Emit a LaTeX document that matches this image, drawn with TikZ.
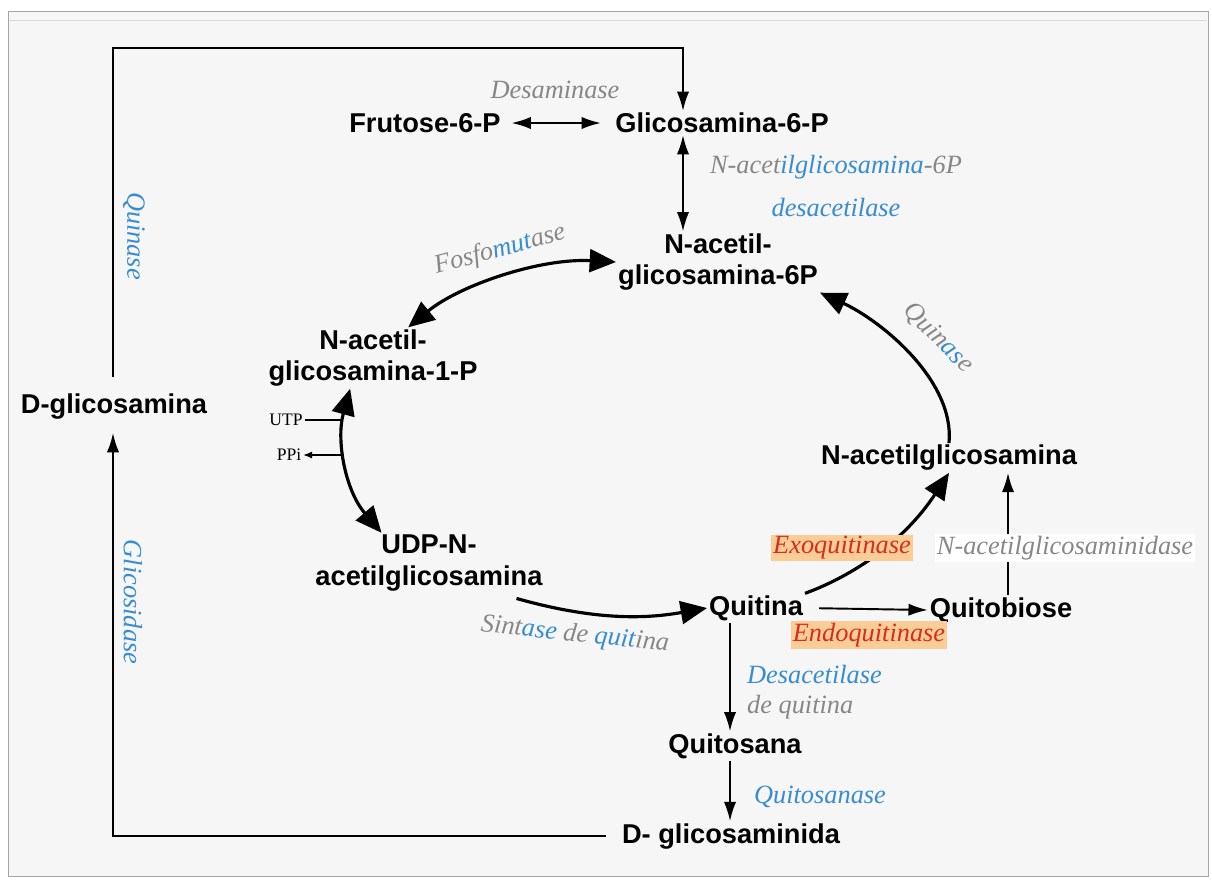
\documentclass[tikz,border=0pt]{standalone}
\usepackage{fontspec}
\setmainfont{Liberation Serif}
\setsansfont{Liberation Sans}
\usetikzlibrary{arrows.meta}
\definecolor{enzgray}{RGB}{135,135,135}
\definecolor{enzblue}{RGB}{55,140,210}
\definecolor{hlorange}{RGB}{250,205,150}
\definecolor{hlred}{RGB}{215,45,30}
\definecolor{bggray}{RGB}{246,246,246}

\begin{document}
\begin{tikzpicture}[x=0.02cm,y=-0.02cm,
    met/.style={font=\sffamily\bfseries\fontsize{15.5}{18}\selectfont,align=center,inner sep=1pt},
    enz/.style={font=\itshape\fontsize{15}{17}\selectfont,text=enzgray,inner sep=1pt,align=center},
    hl/.style={enz,text=hlred,fill=hlorange},
    big/.style={line width=1.8pt,-{Triangle[length=15pt,width=13pt]}},
    bigboth/.style={line width=1.8pt,{Triangle[length=15pt,width=13pt]}-{Triangle[length=15pt,width=13pt]}},
    thin/.style={line width=1.1pt,-{Latex[length=11pt,width=7pt]}},
    thinboth/.style={line width=1.1pt,{Latex[length=11pt,width=7pt]}-{Latex[length=11pt,width=7pt]}}]
    % frame
    \fill[white] (0,0) rectangle (1212,880);
    \draw[gray!70,fill=bggray] (8,11) rectangle (1208,876);
    \draw[gray!30] (9,20) -- (1207,20);

    % metabolites
    \node[met] (frut) at (425,123) {Frutose-6-P};
    \node[met] (gln6p) at (722,123) {Glicosamina-6-P};
    \node[met] (nag6p) at (718,262) {N-acetil-\\glicosamina-6P};
    \node[met] (nag1p) at (373,358) {N-acetil-\\glicosamina-1-P};
    \node[met] (dgln) at (114,407) {D-glicosamina};
    \node[met] (udp) at (429,563) {UDP-N-\\acetilglicosamina};
    \node[met] (quitina) at (756,608) {Quitina};
    \node[met] (quitob) at (1001,610) {Quitobiose};
    \node[met] (nag) at (949,458) {N-acetilglicosamina};
    \node[met] (quitos) at (735,746) {Quitosana};
    \node[met] (dglnd) at (731,836) {D- glicosaminida};
    \node[font=\fontsize{10}{12}\selectfont,inner sep=1pt] (utp) at (286,420) {UTP};
    \node[font=\fontsize{10}{12}\selectfont,inner sep=1pt] (ppi) at (289,455) {PPi};

    % fixed points of the outer loop
    \coordinate (dup) at (113,377);
    \coordinate (dlow) at (113,433);
    \coordinate (top) at (683,48);
    \coordinate (qv) at (730,0);
    \coordinate (qx) at (1008,0);

    % outer loop
    \draw[thin] (dup) |- (top) -- (top |- gln6p.north);
    \draw[thin] ([xshift=-8pt]dglnd.west) -| (dlow);

    % straight steps
    \draw[thinboth,shorten <=5pt,shorten >=7pt] (frut.east) -- (gln6p.west);
    \draw[thinboth] (gln6p.south -| top) -- (nag6p.north -| top);
    \draw[thin,shorten <=8pt] (quitina.east) -- (quitob.west);
    \draw[thin] (quitob.north -| qx) -- (nag.south -| qx);
    \draw[thin] (quitina.south -| qv) -- (quitos.north -| qv);
    \draw[thin] (quitos.south -| qv) -- (dglnd.north -| qv);

    % the cycle
    \draw[bigboth] (nag6p.west) .. controls (540,258) and (460,285) .. ([xshift=20pt]nag1p.north);
    \draw[bigboth] ([xshift=-13pt]nag1p.south) .. controls (336,440) and (345,490) .. ([xshift=-27pt]udp.north);
    \draw[line width=0.6pt] (utp.east) -- (341,420);
    \draw[line width=0.6pt,-{Latex[length=5pt,width=4pt]}] (342,455) -- (ppi.east);
    \draw[big] ([xshift=-16pt,yshift=-3pt]udp.south east) .. controls (600,622) and (650,618) .. (quitina.west);
    \draw[big] (quitina.north east) .. controls (855,575) and (905,540) .. (nag.south);
    \draw[big] (nag.north) .. controls (955,380) and (880,320) .. (nag6p.south east);

    % enzymes
    \node[enz] (desam) at (555,90) {Desaminase};
    \node[enz] (desac6p) at (836,186) {N-acet\textcolor{enzblue}{ilglicosamina}-6P\\[7pt]\textcolor{enzblue}{desacetilase}};
    \node[enz,rotate=15] (mutase) at (500,250) {Fosfo\textcolor{enzblue}{mut}ase};
    \node[enz,rotate=-45] (quin) at (938,338) {Quin\textcolor{enzblue}{as}e};
    \node[enz,rotate=-90,text=enzblue] (quinD) at (134,236) {Quinase};
    \node[enz,rotate=-90,text=enzblue] (glicos) at (133,602) {Glicosidase};
    \node[enz,rotate=-6] (sint) at (575,635) {Sint\textcolor{enzblue}{ase} de \textcolor{enzblue}{quit}ina};
    \node[hl] (exo) at (842,548) {Exoquitinase};
    \node[hl] (endo) at (869,635) {Endoquitinase};
    \node[enz,fill=white] (nagase) at (1065,548) {N-acetilglicosaminidase};
    \node[enz,anchor=west,align=left] (desacq) at (745,692) {\textcolor{enzblue}{Desacetilase}\\de quitina};
    \node[enz,text=enzblue] (quitosase) at (820,797) {Quitosanase};
\end{tikzpicture}
\end{document}
